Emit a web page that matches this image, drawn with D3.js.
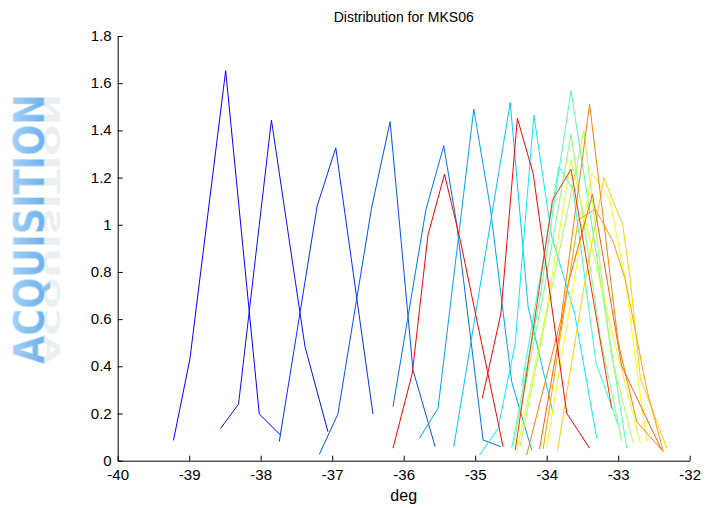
<!DOCTYPE html>
<html><head><meta charset="utf-8">
<script src="https://cdn.jsdelivr.net/npm/d3@7"></script>
<style>body{margin:0;background:#fff}svg{display:block}</style>
</head><body><svg id="c" width="709" height="508"></svg>
<script>
// ---- data (x in deg, y = density) ----
const titleText = "Distribution for MKS06";
const xLabel = "deg";
const xTicks = [-40,-39,-38,-37,-36,-35,-34,-33,-32];
const yTicks = [0,0.2,0.4,0.6,0.8,1,1.2,1.4,1.6,1.8];
const s01 = [[-39.22,0.086],[-38.99,0.431],[-38.49,1.653],[-38.02,0.198],[-37.73,0.111]];
const s02 = [[-38.56,0.137],[-38.31,0.240],[-37.85,1.444],[-37.38,0.483],[-37.06,0.123]];
const s03 = [[-37.74,0.081],[-37.21,1.080],[-36.95,1.326],[-36.43,0.198]];
const s04 = [[-37.18,0.027],[-36.92,0.198],[-36.45,1.070],[-36.19,1.437],[-35.87,0.384],[-35.56,0.059]];
const s05 = [[-36.15,0.229],[-35.69,1.063],[-35.44,1.335],[-35.26,1.006],[-34.89,0.088],[-34.64,0.059]];
const s06 = [[-35.78,0.095],[-35.52,0.222],[-35.02,1.490],[-34.79,1.075],[-34.49,0.335],[-34.21,0.045]];
const s07 = [[-35.30,0.059],[-34.51,1.518],[-34.26,0.652],[-33.91,0.201]];
const s08 = [[-34.94,0.024],[-34.68,0.137],[-34.44,0.498],[-34.18,1.465],[-33.93,0.950],[-33.61,0.625],[-33.30,0.095]];
const s09 = [[-34.35,0.317],[-33.83,1.246],[-33.63,1.148],[-33.31,0.413],[-33.00,0.151]];
const s10 = [[-34.49,0.053],[-34.10,0.680],[-33.66,1.568],[-33.25,0.765],[-32.88,0.053]];
const s11 = [[-34.47,0.062],[-34.05,0.700],[-33.66,1.384],[-33.25,0.520],[-32.95,0.084]];
const s12 = [[-34.37,0.062],[-33.95,0.700],[-33.48,1.399],[-33.10,0.450],[-32.79,0.075]];
const s13 = [[-34.42,0.037],[-34.00,0.640],[-33.66,1.275],[-33.10,0.560],[-32.69,0.075]];
const s14 = [[-34.00,0.058],[-33.65,0.700],[-33.37,1.218],[-33.12,1.108],[-32.90,0.766],[-32.72,0.340],[-32.60,0.081]];
const s15 = [[-33.85,0.040],[-33.50,0.700],[-33.20,1.201],[-33.09,1.112],[-32.94,1.006],[-32.83,0.766],[-32.69,0.349],[-32.32,0.053]];
const s16 = [[-34.28,0.024],[-33.80,0.600],[-33.40,1.511],[-33.00,0.500],[-32.74,0.165],[-32.37,0.038]];
const s17 = [[-34.10,0.050],[-33.70,0.750],[-33.36,1.129],[-32.95,0.400],[-32.40,0.050]];
const s18 = [[-34.05,0.050],[-33.56,1.020],[-33.32,1.067],[-33.07,0.928],[-32.90,0.766],[-32.60,0.300],[-32.37,0.040]];
const r01 = [[-36.15,0.053],[-35.88,0.370],[-35.66,0.957],[-35.43,1.214],[-35.21,0.936],[-34.61,0.059]];
const r02 = [[-34.90,0.265],[-34.64,0.625],[-34.41,1.451],[-34.19,1.218],[-33.72,0.201],[-33.40,0.053]];
const r03 = [[-34.44,0.045],[-33.92,1.104],[-33.66,1.235],[-33.09,0.222]];
const seriesList = [s01,s02,s03,s04,s05,s06,s07,s08,s09,s10,s11,s12,s13,s14,s15,s16,s17,s18,r01,r02,r03];
const seriesColors = ["#0000ff","#0010ff","#0030ff","#0050ff","#0070ff","#00a0ff","#00c8ff","#00f0ff","#30ffd0",
  "#50ffb0","#80ff80","#b0ff50","#e0ff20","#ffff00","#ffd000","#ff8000","#ff6000","#ffa000","#ff0000","#ff0000","#ff3000"];

// ---- layout ----
const svg = d3.select("#c");
const L = 117.7, R = 689.7, T = 36, B = 460.7;
const x = d3.scaleLinear().domain([-40,-32]).range([L,R]);
const y = d3.scaleLinear().domain([0,1.8]).range([B,T]);
const font = "'Liberation Sans', Arial, sans-serif";

// watermark
const wm = svg.append("g").attr("transform","translate(44,229) rotate(-90)");
const grad = svg.append("defs").append("linearGradient").attr("id","wg").attr("x1",0).attr("y1",0).attr("x2",0).attr("y2",1);
grad.append("stop").attr("offset","0%").attr("stop-color","#b3d8f7");
grad.append("stop").attr("offset","100%").attr("stop-color","#5aa6ea");
wm.append("text").attr("text-anchor","middle").attr("x",0).attr("y",0)
  .attr("font-family","'DejaVu Sans', sans-serif").attr("font-weight","bold").attr("font-size",42)
  .attr("textLength",270).attr("lengthAdjust","spacingAndGlyphs")
  .attr("fill","url(#wg)").attr("stroke","#cfe5f8").attr("stroke-width",0.8)
  .text("ACQUISITION");
wm.append("text").attr("text-anchor","middle").attr("x",0).attr("y",0)
  .attr("transform","scale(1,-0.5)")
  .attr("font-family","'DejaVu Sans', sans-serif").attr("font-weight","bold").attr("font-size",42)
  .attr("textLength",270).attr("lengthAdjust","spacingAndGlyphs")
  .attr("fill","#cdd9e4").attr("opacity",0.4)
  .text("ACQUISITION");

// axes
const xAxis = d3.axisBottom(x).tickValues(xTicks).tickSizeInner(-5).tickSizeOuter(0).tickPadding(5).tickFormat(d => String(d));
const yAxis = d3.axisLeft(y).tickValues(yTicks).tickSizeInner(-5).tickSizeOuter(0).tickPadding(6).tickFormat(d => d===0||d===1 ? String(d) : d3.format(".1f")(d));
const gx = svg.append("g").attr("transform",`translate(0,${B})`).call(xAxis);
const gy = svg.append("g").attr("transform",`translate(${L},0)`).call(yAxis);
[gx,gy].forEach(g => {
  g.selectAll("path,line").attr("stroke","#000").attr("stroke-width",1);
  g.selectAll("text").attr("font-family",font).attr("font-size",15).attr("fill","#000");
});
gx.selectAll("text").attr("dy","0.95em");
gy.selectAll("text").attr("dy","0.3em");

// lines
const line = d3.line().x(d => x(d[0])).y(d => y(d[1]));
svg.append("g").selectAll("path").data(seriesList).join("path")
  .attr("d", line).attr("fill","none").attr("stroke",(d,i)=>seriesColors[i]).attr("stroke-width",1);

// titles
svg.append("text").attr("x",(L+R)/2).attr("y",22).attr("text-anchor","middle")
  .attr("font-family",font).attr("font-size",14).text(titleText);
svg.append("text").attr("x",(L+R)/2).attr("y",501).attr("text-anchor","middle")
  .attr("font-family",font).attr("font-size",16).text(xLabel);
</script></body></html>
